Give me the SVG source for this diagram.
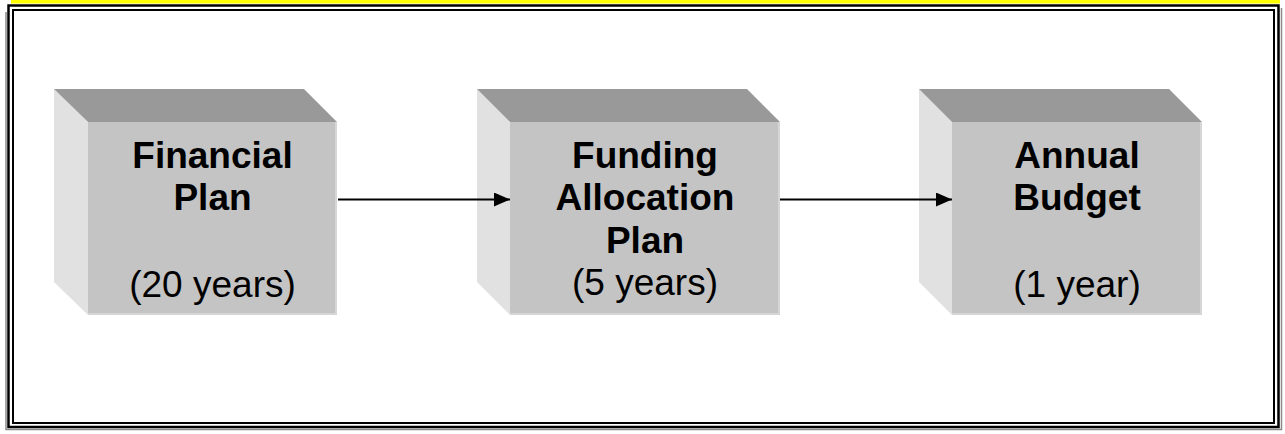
<svg xmlns="http://www.w3.org/2000/svg" width="1285" height="434" viewBox="0 0 1285 434">
  <style>
    .top { fill: #999999; }
    .side { fill: #e1e1e1; }
    .front { fill: #c4c4c4; }
    .edge { fill: #d6d6d6; }
    .title { font-family: "Liberation Sans", Arial, sans-serif; font-size: 37px; font-weight: bold; fill: #000; text-anchor: middle; }
    .span { font-family: "Liberation Sans", Arial, sans-serif; font-size: 37px; fill: #000; text-anchor: middle; }
    .link { stroke: #000; stroke-width: 2; fill: none; }
  </style>
  <defs>
    <marker id="arrow" markerUnits="userSpaceOnUse" markerWidth="16" markerHeight="14" refX="16" refY="7" orient="auto">
      <path d="M0,0 L16,7 L0,14 z" fill="#000"/>
    </marker>
  </defs>

  <!-- page frame -->
  <rect x="0" y="0" width="1285" height="434" fill="#ffffff"/>
  <rect x="11" y="0" width="1269" height="3.5" fill="#ffff00"/>
  <polyline points="6,12 6,429.5 1281.5,429.5 1281.5,8" fill="none" stroke="#8a8a8a" stroke-width="1.5"/>
  <rect x="8.5" y="5.5" width="1270" height="421.5" fill="none" stroke="#000" stroke-width="2.5"/>
  <rect x="13" y="10" width="1261" height="413" fill="none" stroke="#000" stroke-width="2"/>

  <!-- Financial Plan -->
  <g id="financial-plan">
    <polygon class="side" points="54,89 88,122 88,315 54,282"/>
    <polygon class="top" points="54,89 304,89 337,122 88,122"/>
    <rect class="front" x="88" y="122" width="249" height="193"/>
    <rect class="edge" x="335" y="122" width="2" height="193"/>
    <rect class="edge" x="88" y="313" width="249" height="2"/>
    <text class="title" x="212.5" y="167.5">Financial</text>
    <text class="title" x="212.5" y="209.5">Plan</text>
    <text class="span" x="212.5" y="296.5">(20 years)</text>
  </g>

  <!-- Funding Allocation Plan -->
  <g id="funding-allocation-plan">
    <polygon class="side" points="477,89 510,122 510,315 477,282"/>
    <polygon class="top" points="477,89 747,89 780,122 510,122"/>
    <rect class="front" x="510" y="122" width="270" height="193"/>
    <rect class="edge" x="778" y="122" width="2" height="193"/>
    <rect class="edge" x="510" y="313" width="270" height="2"/>
    <text class="title" x="645" y="168">Funding</text>
    <text class="title" x="645" y="210">Allocation</text>
    <text class="title" x="645" y="253">Plan</text>
    <text class="span" x="645" y="295">(5 years)</text>
  </g>

  <!-- Annual Budget -->
  <g id="annual-budget">
    <polygon class="side" points="919,89 952,122 952,315 919,282"/>
    <polygon class="top" points="919,89 1169,89 1202,122 952,122"/>
    <rect class="front" x="952" y="122" width="250" height="193"/>
    <rect class="edge" x="1200" y="122" width="2" height="193"/>
    <rect class="edge" x="952" y="313" width="250" height="2"/>
    <text class="title" x="1077" y="168">Annual</text>
    <text class="title" x="1077" y="210">Budget</text>
    <text class="span" x="1077" y="296.5">(1 year)</text>
  </g>

  <!-- connectors -->
  <g id="connectors">
    <line class="link" x1="338" y1="199.5" x2="510" y2="199.5" marker-end="url(#arrow)"/>
    <line class="link" x1="780" y1="199.5" x2="952" y2="199.5" marker-end="url(#arrow)"/>
  </g>
</svg>
